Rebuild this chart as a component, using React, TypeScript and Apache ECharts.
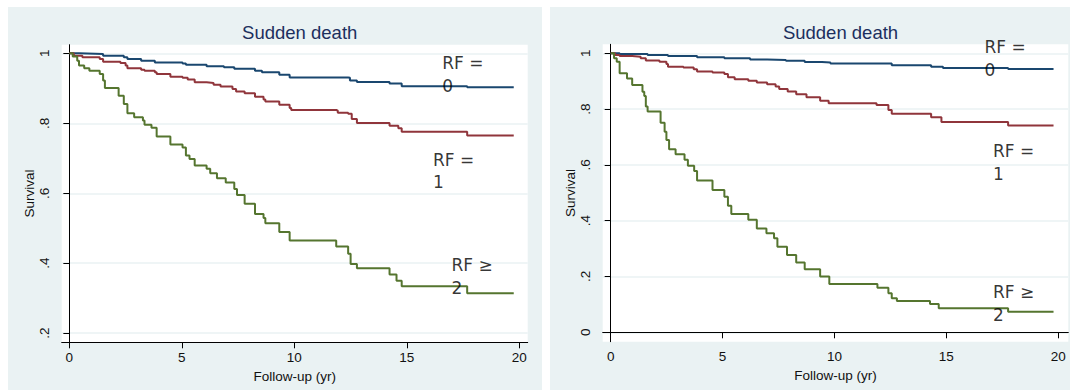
import React, { useEffect, useRef } from "react";
import * as echarts from "echarts";

// ---- data ----
const panelTitle = "Sudden death";
const xAxisTitle = "Follow-up (yr)";
const yAxisTitle = "Survival";
const xTicks = [0, 5, 10, 15, 20];
const leftYTicks = [0.2, 0.4, 0.6, 0.8, 1];
const rightYTicks = [0, 0.2, 0.4, 0.6, 0.8, 1];
const groupNames = ["RF = 0", "RF = 1", "RF \u2265 2"];
const groupLabels = ["RF =\n0", "RF =\n1", "RF \u2265\n2"];

const leftRF0 = [[0,1],[0.43,0.998],[1.5,0.993],[2.42,0.989],[2.58,0.984],[3.19,0.979],[3.8,0.974],[5.03,0.971],[5.18,0.967],[6.1,0.963],[6.87,0.96],[7.33,0.956],[8.25,0.95],[8.56,0.946],[9.33,0.939],[9.79,0.931],[12.39,0.93],[12.47,0.922],[12.78,0.918],[14.23,0.914],[14.77,0.906],[17.68,0.903],[19.75,0.903]];
const leftRF1 = [[0,1],[0.2,0.993],[0.58,0.989],[1.35,0.984],[1.5,0.976],[2.27,0.972],[2.5,0.965],[2.58,0.957],[3.19,0.953],[3.34,0.95],[3.8,0.946],[3.88,0.941],[4.49,0.933],[5.03,0.93],[5.26,0.925],[5.57,0.917],[6.1,0.915],[6.41,0.91],[6.72,0.905],[7.25,0.898],[7.41,0.891],[7.79,0.886],[8.25,0.876],[8.63,0.868],[8.71,0.862],[9.33,0.853],[9.79,0.844],[9.86,0.838],[11.86,0.836],[11.93,0.83],[12.39,0.827],[12.55,0.812],[12.78,0.801],[14.23,0.793],[14.62,0.786],[14.77,0.776],[17.68,0.765],[19.75,0.765]];
const leftRF2 = [[0,1],[0.15,0.991],[0.35,0.979],[0.43,0.965],[0.66,0.957],[0.89,0.95],[1.35,0.941],[1.5,0.922],[1.58,0.901],[2.19,0.879],[2.42,0.855],[2.58,0.829],[2.88,0.817],[3.27,0.808],[3.34,0.796],[3.65,0.787],[3.88,0.762],[4.49,0.739],[5.03,0.731],[5.18,0.708],[5.34,0.698],[5.57,0.679],[6.1,0.67],[6.26,0.657],[6.56,0.643],[6.95,0.631],[7.33,0.612],[7.45,0.595],[7.79,0.57],[8.25,0.541],[8.63,0.529],[8.71,0.514],[9.33,0.489],[9.79,0.465],[11.86,0.448],[12.39,0.427],[12.5,0.398],[12.78,0.386],[14.23,0.368],[14.54,0.35],[14.77,0.334],[17.68,0.314],[19.75,0.314]];

const rightRF0 = [[0,1],[0.4,0.997],[1.65,0.994],[2.56,0.99],[3.86,0.986],[5.08,0.982],[6.23,0.978],[6.99,0.976],[7.83,0.973],[8.67,0.969],[9.44,0.967],[9.82,0.963],[12.56,0.957],[14.32,0.952],[14.85,0.947],[17.76,0.944],[19.79,0.944]];
const rightRF1 = [[0,1],[0.2,0.994],[0.4,0.99],[0.96,0.988],[1.34,0.982],[1.57,0.974],[2.18,0.97],[2.49,0.962],[2.56,0.952],[3.25,0.949],[3.71,0.943],[3.86,0.935],[4.55,0.931],[5.08,0.926],[5.24,0.914],[5.54,0.907],[6.15,0.902],[6.53,0.895],[6.99,0.889],[7.37,0.881],[7.53,0.872],[7.91,0.863],[8.29,0.853],[8.75,0.842],[9.36,0.83],[9.74,0.821],[11.88,0.815],[12.41,0.797],[12.56,0.783],[14.32,0.771],[14.78,0.754],[17.76,0.741],[19.79,0.741]];
const rightRF2 = [[0,1],[0.15,0.982],[0.27,0.97],[0.4,0.928],[0.73,0.91],[0.96,0.886],[1.42,0.862],[1.5,0.847],[1.57,0.809],[1.65,0.791],[2.23,0.751],[2.41,0.719],[2.49,0.689],[2.61,0.656],[2.9,0.638],[3.3,0.618],[3.45,0.597],[3.73,0.578],[3.86,0.544],[4.55,0.51],[5.08,0.486],[5.24,0.454],[5.39,0.424],[6.15,0.403],[6.53,0.372],[6.96,0.355],[7.3,0.337],[7.45,0.307],[7.88,0.277],[8.29,0.25],[8.67,0.226],[9.36,0.2],[9.77,0.173],[11.92,0.16],[12.41,0.14],[12.56,0.122],[12.79,0.112],[14.27,0.101],[14.66,0.086],[17.76,0.074],[19.79,0.074]];

const leftLabelPos = [[16.55, 0.939], [16.14, 0.664], [16.96, 0.362]];
const rightLabelPos = [[16.68, 0.981], [17.06, 0.609], [17.06, 0.103]];

// ---- styles ----
const COLORS = ["#1a476f", "#90353b", "#55752f"];
const BG = "#eaf2f3";
const SANS = "'Liberation Sans', Arial, Helvetica, sans-serif";

const fmtTick = (v: number) => {
  if (Math.abs(v - 1) < 1e-9) return "1";
  if (Math.abs(v) < 1e-9) return "0";
  return String(Math.round(v * 10) / 10).replace(/^0/, "");
};

export default function App() {
  const ref = useRef<HTMLDivElement>(null);
  useEffect(() => {
    if (!ref.current) return;
    const chart = echarts.init(ref.current, null, { renderer: "svg" });

    const grids = [
      { left: 61.7, top: 44.7, width: 466, height: 297.6 },
      { left: 602.7, top: 44.3, width: 465.6, height: 297.4 },
    ];
    const xExt = [[-0.34, 20.37], [-0.357, 20.45]];
    const yExt = [[0.174, 1.0246], [-0.0337, 1.0322]];
    const yTicks = [leftYTicks, rightYTicks];
    const curves = [[leftRF0, leftRF1, leftRF2], [rightRF0, rightRF1, rightRF2]];
    const labelPos = [leftLabelPos, rightLabelPos];

    const axisLine = { show: true, lineStyle: { color: "#000", width: 1 } };
    const axisLabelBase = { color: "#111", fontFamily: SANS, fontSize: 13.5 };

    const xAxis = grids.map((_, i) => ({
      type: "value",
      gridIndex: i,
      min: xExt[i][0],
      max: xExt[i][1],
      name: xAxisTitle,
      nameLocation: "middle",
      nameGap: 22,
      nameTextStyle: { color: "#111", fontFamily: SANS, fontSize: 13.5 },
      axisLine,
      axisTick: { show: true, length: 6, customValues: xTicks, lineStyle: { color: "#000" } },
      axisLabel: { ...axisLabelBase, margin: 8, customValues: xTicks, formatter: (v: number) => String(v) },
      splitLine: { show: false },
    }));

    const yAxis = grids.map((_, i) => ({
      type: "value",
      gridIndex: i,
      min: yExt[i][0],
      max: yExt[i][1],
      name: yAxisTitle,
      nameLocation: "middle",
      nameGap: 24,
      nameTextStyle: { color: "#111", fontFamily: SANS, fontSize: 13.5 },
      axisLine,
      axisTick: { show: true, length: 6, customValues: yTicks[i], lineStyle: { color: "#000" } },
      axisLabel: { ...axisLabelBase, margin: 10, rotate: 90, customValues: yTicks[i], formatter: fmtTick },
      splitLine: { show: true, lineStyle: { color: BG, width: 1.5 } },
    }));

    const series: any[] = [];
    curves.forEach((set, gi) => {
      set.forEach((data, ci) => {
        series.push({
          type: "line",
          name: groupNames[ci],
          xAxisIndex: gi,
          yAxisIndex: gi,
          data,
          step: "end",
          showSymbol: false,
          symbol: "none",
          lineStyle: { color: COLORS[ci], width: 2 },
          itemStyle: { color: COLORS[ci] },
          z: 3,
          silent: true,
        });
      });
      series.push({
        type: "scatter",
        xAxisIndex: gi,
        yAxisIndex: gi,
        symbolSize: 1,
        itemStyle: { color: "transparent" },
        z: 10,
        silent: true,
        data: labelPos[gi].map((p, k) => ({ name: groupLabels[k], value: p })),
        label: {
          show: true,
          position: "right",
          distance: 0,
          formatter: (p: any) => p.name,
          color: "#000",
          fontFamily: "'DejaVu Sans', sans-serif",
          fontSize: 17,
          lineHeight: 22.4,
          align: "left",
        },
      });
    });

    chart.setOption({
      animation: false,
      backgroundColor: "#ffffff",
      graphic: [
        { type: "rect", z: -10, silent: true, shape: { x: 8, y: 7, width: 534, height: 383 }, style: { fill: BG } },
        { type: "rect", z: -10, silent: true, shape: { x: 550, y: 7, width: 520, height: 383 }, style: { fill: BG } },
      ],
      title: grids.map((g) => ({
        text: panelTitle,
        left: g.left + g.width / 2,
        top: 18,
        textAlign: "center",
        textStyle: { color: "#1c2f5e", fontFamily: SANS, fontSize: 18.5, fontWeight: "normal" },
      })),
      grid: grids.map((g) => ({ ...g, show: true, backgroundColor: "#ffffff", borderWidth: 0, containLabel: false })),
      xAxis,
      yAxis,
      series,
    });

    return () => chart.dispose();
  }, []);

  return (
    <div
      ref={ref}
      style={{ position: "absolute", left: 0, top: 0, width: 1070, height: 390 }}
    />
  );
}
